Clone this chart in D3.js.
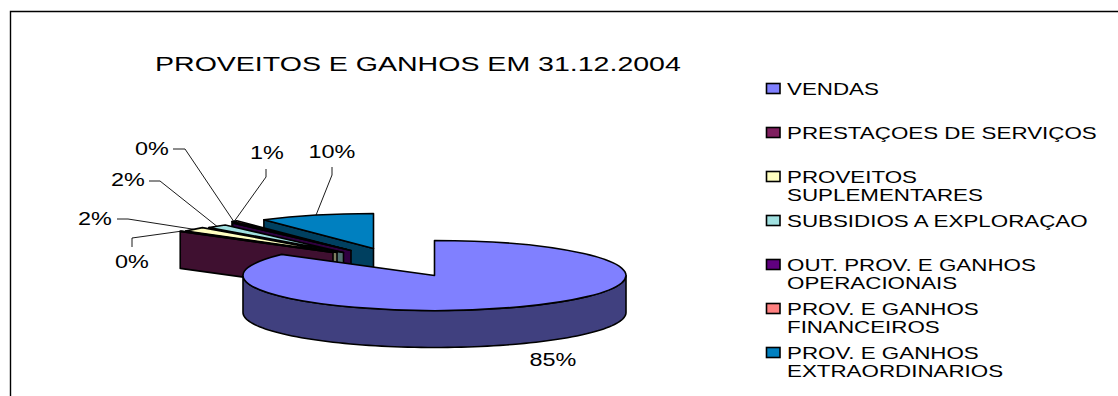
<!DOCTYPE html>
<html>
<head>
<meta charset="utf-8">
<script src="https://d3js.org/d3.v7.min.js"></script>
<style>
  html, body { margin: 0; padding: 0; background: #fff; }
  svg { display: block; }
  text { font-family: "Liberation Sans", Arial, sans-serif; fill: #000; }
</style>
</head>
<body>
<svg id="chart" width="1118" height="396"></svg>
<script>
// data
const categories = [
  'VENDAS',
  'PRESTAÇOES DE SERVIÇOS',
  'PROVEITOS SUPLEMENTARES',
  'SUBSIDIOS A EXPLORAÇAO',
  'OUT. PROV. E GANHOS OPERACIONAIS',
  'PROV. E GANHOS FINANCEIROS',
  'PROV. E GANHOS EXTRAORDINARIOS'
];
const legendLines = [
  ['VENDAS'],
  ['PRESTAÇOES DE SERVIÇOS'],
  ['PROVEITOS', 'SUPLEMENTARES'],
  ['SUBSIDIOS A EXPLORAÇAO'],
  ['OUT. PROV. E GANHOS', 'OPERACIONAIS'],
  ['PROV. E GANHOS', 'FINANCEIROS'],
  ['PROV. E GANHOS', 'EXTRAORDINARIOS']
];
const values = [85.3, 0.2, 2.1, 1.8, 0.4, 0.5, 9.7];
const valueLabels = ['85%', '0%', '2%', '2%', '0%', '1%', '10%'];
const topColors = ['#8080ff', '#7f1f5f', '#ffffc0', '#a0e0e0', '#600080', '#ff8080', '#0080c0'];
const sideColors = ['#40407f', '#3f1030', '#7f7f60', '#507070', '#300040', '#7f4040', '#004060'];

// layout
const svg = d3.select('#chart');
const cx = 434.5, cy = 275.5, rx = 191.5, ry = 35, depth = 37;

// how far each slice is pulled out of the pie, in px
const explode = [[0, 0], [-101.5, -23], [-97.5, -23], [-91, -23], [-83.5, -25], [-88, -26], [-61, -27]];

// label centre, and the elbow of its leader line
const labelPos = [[553, 360], [132, 262], [95, 219], [128, 180], [152, 149], [267, 153], [332, 152]];
const elbows = [null, [[132, 247], [132, 238]], [[117, 219], [128, 219]], [[149, 181], [160, 181]],
  [[173, 149], [185, 149]], [[266, 169], [266, 177]], [[332, 167], [332, 175]]];

const pie = d3.pie().sort(null).value(d => d);
const slices = pie(values).map((s, i) => ({
  ...s, i,
  ox: cx + explode[i][0],
  oy: cy + explode[i][1]
}));

const arc = d3.arc().innerRadius(0).outerRadius(rx);
const px = (s, a) => s.ox + rx * Math.sin(a);
const py = (s, a) => s.oy - ry * Math.cos(a);

// the reference text is stretched sideways
function stretch(sel, k) {
  sel.each(function () {
    d3.select(this)
      .attr('textLength', this.getComputedTextLength() * k)
      .attr('lengthAdjust', 'spacingAndGlyphs');
  });
}

// frame: top and left only
svg.append('path')
  .attr('d', 'M1118,11.5H10.5V396')
  .attr('fill', 'none')
  .attr('stroke', '#000')
  .attr('stroke-width', 1.4);

svg.append('text')
  .attr('x', 155).attr('y', 71)
  .style('font-size', '20.5px')
  .text('PROVEITOS E GANHOS EM 31.12.2004')
  .call(stretch, 526 / 378);

// back to front, the big slice last
const order = [6, 5, 4, 3, 2, 1, 0];
const pieG = svg.append('g')
  .attr('stroke', '#000')
  .attr('stroke-width', 1.6)
  .attr('stroke-linejoin', 'round');

order.forEach(i => {
  const s = slices[i];
  const g = pieG.append('g');

  if (i > 0) {
    // cut face along the slice's first radius
    const a = s.startAngle;
    const pts = [[s.ox, s.oy], [px(s, a), py(s, a)], [px(s, a), py(s, a) + depth], [s.ox, s.oy + depth]];
    g.append('path')
      .attr('d', d3.line()(pts) + 'Z')
      .attr('fill', sideColors[i]);
  } else {
    // front wall of the main slice
    const front = d3.range(Math.PI / 2, 3 * Math.PI / 2 + 0.001, Math.PI / 90);
    const upper = front.map(a => [px(s, a), py(s, a)]);
    const lower = front.map(a => [px(s, a), py(s, a) + depth]).reverse();
    g.append('path')
      .attr('d', d3.line()(upper.concat(lower)) + 'Z')
      .attr('fill', sideColors[i]);
  }

  g.append('path')
    .attr('d', arc(s))
    .attr('transform', `translate(${s.ox},${s.oy}) scale(1,${ry / rx})`)
    .attr('vector-effect', 'non-scaling-stroke')
    .attr('fill', topColors[i]);
});

// leader lines
const leaders = svg.append('g')
  .attr('fill', 'none')
  .attr('stroke', '#000')
  .attr('stroke-width', 0.9);

slices.forEach((s, i) => {
  if (!elbows[i]) return;
  const mid = (s.startAngle + s.endAngle) / 2;
  leaders.append('path')
    .attr('d', d3.line()([...elbows[i], [px(s, mid), py(s, mid)]]));
});

svg.append('g').selectAll('text')
  .data(valueLabels)
  .join('text')
  .attr('x', (d, i) => labelPos[i][0])
  .attr('y', (d, i) => labelPos[i][1])
  .attr('text-anchor', 'middle')
  .attr('dy', '0.36em')
  .style('font-size', '18px')
  .text(d => d)
  .call(stretch, 1.3);

// legend
const legendY = d3.scaleLinear().domain([0, categories.length - 1]).range([89, 353]);
const legend = svg.append('g').selectAll('g')
  .data(categories)
  .join('g')
  .attr('transform', (d, i) => `translate(766,${legendY(i)})`);

legend.append('rect')
  .attr('x', 0.5).attr('y', -5.5)
  .attr('width', 13.5).attr('height', 10)
  .attr('fill', (d, i) => topColors[i])
  .attr('stroke', '#000')
  .attr('stroke-width', 1.6);

legend.append('g').selectAll('text')
  .data((d, i) => legendLines[i])
  .join('text')
  .attr('x', 21)
  .attr('y', (d, i) => i * 18.3)
  .attr('dy', '0.36em')
  .style('font-size', '17px')
  .text(d => d)
  .call(stretch, 309 / 235);
</script>
</body>
</html>
